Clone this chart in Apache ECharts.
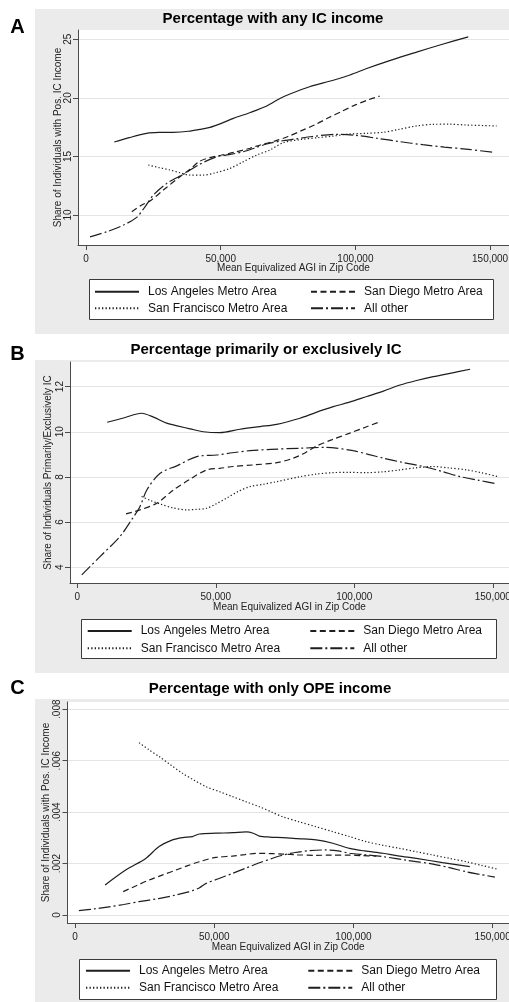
<!DOCTYPE html>
<html>
<head>
<meta charset="utf-8">
<script src="https://cdn.jsdelivr.net/npm/echarts@6/dist/echarts.min.js"></script>
<style>
  html, body { margin: 0; padding: 0; background: #fff; }
  #chart { width: 509px; height: 1002px; }
</style>
</head>
<body>
<div id="chart"></div>
<script>
var FONT = '"Liberation Sans", Arial, sans-serif';
var names = ['Los Angeles Metro Area', 'San Diego Metro Area', 'San Francisco Metro Area', 'All other'];
var xTicks = [0, 50000, 100000, 150000];

// Panel A: percentage with any IC income
var anyLA = [[10500,16.23],[16000,16.6],[22500,16.97],[27000,17.05],[32400,17.06],[38000,17.15],[42300,17.31],[46000,17.48],[50000,17.8],[54700,18.25],[61000,18.75],[67100,19.3],[72000,19.95],[75700,20.33],[83000,20.95],[91800,21.5],[98000,21.95],[104200,22.5],[113000,23.2],[122700,23.9],[132000,24.55],[141900,25.2]];
var anySD = [[17000,10.28],[20700,10.85],[23800,11.2],[28700,12.13],[34900,13.27],[38600,13.9],[42300,14.6],[46000,14.9],[50000,15.1],[55000,15.35],[60900,15.7],[65000,16.0],[70000,16.3],[75000,16.7],[80000,17.2],[85000,17.7],[90000,18.3],[95000,18.85],[100000,19.4],[105000,19.85],[109000,20.15]];
var anySF = [[23100,14.27],[27000,14.05],[31200,13.84],[35000,13.6],[38600,13.41],[43500,13.41],[48000,13.6],[53500,13.98],[58000,14.5],[63400,15.12],[68300,15.55],[73200,16.17],[80000,16.45],[86000,16.6],[91800,16.74],[97000,16.9],[104200,16.97],[110400,17.06],[116000,17.3],[122700,17.6],[128900,17.74],[135000,17.75],[141300,17.68],[152400,17.6]];
var anyAO = [[1500,8.14],[7700,8.57],[13900,9.14],[18800,9.8],[21900,10.7],[25000,11.7],[30000,12.7],[36700,13.55],[41700,14.27],[48500,14.97],[53000,15.15],[58400,15.4],[63000,15.75],[67100,16.06],[72000,16.3],[78000,16.5],[84000,16.7],[93000,16.89],[100000,16.8],[108000,16.55],[116600,16.26],[125000,16.0],[133000,15.8],[142000,15.6],[151200,15.35]];

// Panel B: percentage primarily or exclusively IC
var primLA = [[10800,10.42],[17000,10.62],[23200,10.82],[27500,10.65],[32300,10.38],[36500,10.25],[40700,10.13],[45500,10.0],[51500,9.96],[58700,10.11],[66000,10.23],[72000,10.33],[80400,10.6],[86000,10.85],[92400,11.11],[98000,11.3],[104500,11.56],[110500,11.8],[116500,12.07],[122500,12.27],[128500,12.44],[135000,12.6],[141800,12.77]];
var primSD = [[17600,6.36],[22600,6.54],[28700,6.83],[34700,7.42],[40700,7.9],[46700,8.31],[51500,8.38],[56300,8.46],[63500,8.53],[72000,8.63],[78000,8.83],[82000,9.05],[86400,9.37],[92000,9.65],[98400,9.94],[104000,10.2],[109200,10.44]];
var primSF = [[23200,7.13],[26500,6.95],[29900,6.8],[34500,6.63],[39500,6.54],[43000,6.56],[46700,6.61],[50000,6.8],[53900,7.06],[58000,7.35],[62300,7.57],[67000,7.67],[72000,7.79],[80400,8.01],[86000,8.12],[92400,8.19],[98000,8.2],[104500,8.19],[110000,8.22],[116500,8.31],[122000,8.4],[128500,8.46],[134000,8.4],[140600,8.31],[146000,8.18],[152000,8.01]];
var primAO = [[1600,3.66],[8200,4.47],[15400,5.36],[19600,6.1],[22600,6.68],[25100,7.42],[29900,8.16],[35900,8.49],[43100,8.9],[50300,8.97],[56000,9.07],[62300,9.16],[70000,9.22],[80400,9.27],[90000,9.31],[99600,9.16],[105000,9.0],[110500,8.83],[117500,8.64],[124900,8.46],[131500,8.25],[138200,8.01],[145000,7.85],[151400,7.69]];

// Panel C: percentage with only OPE income
var opeLA = [[10800,0.00117],[18200,0.00175],[25400,0.0022],[30200,0.00266],[35000,0.00292],[38600,0.00301],[42200,0.00305],[44600,0.00315],[50600,0.00318],[56600,0.0032],[61500,0.00323],[64000,0.00318],[66200,0.00307],[70000,0.00303],[74600,0.00301],[80000,0.00297],[86600,0.00292],[92600,0.00279],[98600,0.00259],[104000,0.00249],[110600,0.0024],[116000,0.0023],[122600,0.0022],[132000,0.00204],[141800,0.00188]];
var opeSD = [[17300,0.00091],[22000,0.00114],[26600,0.00136],[31500,0.00156],[36300,0.00175],[40500,0.00192],[44600,0.00207],[50600,0.00224],[56600,0.00229],[61000,0.00235],[66200,0.0024],[70000,0.00239],[74600,0.00237],[80000,0.00234],[86600,0.00232],[92000,0.00233],[98600,0.00233],[103000,0.00231],[108200,0.00229]];
var opeSF = [[23000,0.0067],[26600,0.00642],[30200,0.00616],[34400,0.00583],[38600,0.00551],[42800,0.00524],[47000,0.00499],[52000,0.00479],[56600,0.0046],[61500,0.0044],[66200,0.00421],[70500,0.00401],[74600,0.00382],[80600,0.00362],[86600,0.00343],[92600,0.00324],[98600,0.00305],[104600,0.00285],[110600,0.00271],[116600,0.00259],[122600,0.00246],[128600,0.00233],[134600,0.0022],[140600,0.00207],[146000,0.00193],[152000,0.00178]];
var opeAO = [[1400,0.00017],[7000,0.00024],[12200,0.00032],[17500,0.00041],[23000,0.00052],[30000,0.00064],[36300,0.00078],[40000,0.00088],[42200,0.00095],[44600,0.00105],[47100,0.00123],[51500,0.00141],[56600,0.00162],[61500,0.00183],[66200,0.00203],[70500,0.00219],[74600,0.00233],[79000,0.00243],[84200,0.0025],[90200,0.00253],[94500,0.00249],[98600,0.0024],[104500,0.00234],[110600,0.00227],[119000,0.00213],[128600,0.00198],[134500,0.00184],[140600,0.00168],[145500,0.00158],[150800,0.00147]];

var dashes = {
  'Los Angeles Metro Area': 'solid',
  'San Diego Metro Area': [6, 3.5],
  'San Francisco Metro Area': [1.3, 2.2],
  'All other': [12, 3, 2, 3]
};

function fmtX(v) { return v.toLocaleString('en-US'); }
function fmtOpe(v) { return v === 0 ? '0' : v.toFixed(3).replace(/^0/, ''); }

var panels = [
  { grid: { left: 78, top: 30, right: 0, height: 215 }, xMin: -2970, xMax: 157016,
    yMin: 7.44, yMax: 25.79, yTicks: [10, 15, 20, 25], yFmt: function (v) { return String(v); },
    yName: 'Share of Individuals with Pos. IC Income', xGap: 18.5, yGap: 15, yMargin: 5,
    data: [anyLA, anySD, anySF, anyAO] },
  { grid: { left: 70, top: 362, right: 0, height: 221 }, xMin: -2635, xMax: 155850,
    yMin: 3.30, yMax: 13.09, yTicks: [4, 6, 8, 10, 12], yFmt: function (v) { return String(v); },
    yName: 'Share of Individuals Primarily/Exclusively IC', xGap: 19.5, yGap: 17, yMargin: 4.6,
    data: [primLA, primSD, primSF, primAO] },
  { grid: { left: 67.5, top: 702, right: 0, height: 221 }, xMin: -2700, xMax: 155870,
    yMin: -0.00031, yMax: 0.00828, yTicks: [0, 0.002, 0.004, 0.006, 0.008], yFmt: fmtOpe,
    yName: 'Share of Individuals with Pos. IC Income', xGap: 19.5, yGap: 16, yMargin: 5.5,
    data: [opeLA, opeSD, opeSF, opeAO] }
];

var axisColor = '#4a4a4a';
var textColor = '#222';
var grids = [], xAxes = [], yAxes = [], series = [];

panels.forEach(function (p, i) {
  grids.push(Object.assign({ show: true, backgroundColor: '#fff', borderWidth: 0,
    containLabel: false, outerBoundsMode: 'none' }, p.grid));
  xAxes.push({
    gridIndex: i, type: 'value', min: p.xMin, max: p.xMax,
    axisLine: { show: true, onZero: false, lineStyle: { color: axisColor, width: 1 } },
    axisTick: { show: true, length: 5, customValues: xTicks, lineStyle: { color: axisColor } },
    axisLabel: { customValues: xTicks, formatter: fmtX, fontSize: 10, color: textColor, margin: 9.5,
      fontFamily: FONT, hideOverlap: false },
    splitLine: { show: false },
    name: 'Mean Equivalized AGI in Zip Code', nameLocation: 'middle', nameGap: p.xGap,
    nameMoveOverlap: false,
    nameTextStyle: { fontSize: 10, color: textColor, fontFamily: FONT }
  });
  yAxes.push({
    gridIndex: i, type: 'value', min: p.yMin, max: p.yMax,
    axisLine: { show: true, onZero: false, lineStyle: { color: axisColor, width: 1 } },
    axisTick: { show: true, length: 5, customValues: p.yTicks, lineStyle: { color: axisColor } },
    axisLabel: { customValues: p.yTicks, formatter: p.yFmt, rotate: 90, fontSize: 10, color: textColor,
      margin: p.yMargin, fontFamily: FONT },
    splitLine: { show: true, lineStyle: { color: '#e4e4e4', width: 1 } },
    name: p.yName, nameLocation: 'middle', nameGap: p.yGap, nameMoveOverlap: false,
    nameTextStyle: { fontSize: 10, color: textColor, fontFamily: FONT }
  });
  p.data.forEach(function (d, k) {
    series.push({
      name: names[k], type: 'line', xAxisIndex: i, yAxisIndex: i,
      data: d, smooth: 0.3, symbol: 'none', silent: true,
      itemStyle: { color: '#1e1e1e' },
      lineStyle: { color: '#1e1e1e', width: 1.2, type: dashes[names[k]] }
    });
  });
});

function legendCol(left, top, gap, items) {
  return {
    orient: 'vertical', left: left, top: top, padding: 0,
    itemWidth: 44, itemHeight: 12, itemGap: gap,
    selectedMode: false, data: items,
    itemStyle: { opacity: 0 },
    textStyle: { fontSize: 12, color: '#111', fontFamily: FONT, padding: [0, 0, 0, 4] }
  };
}

var legends = [
  legendCol(94, 285.7, 4.6, [names[0], names[2]]),
  legendCol(310, 285.7, 4.6, [names[1], names[3]]),
  legendCol(86.7, 625, 5.3, [names[0], names[2]]),
  legendCol(309.3, 625, 5.3, [names[1], names[3]]),
  legendCol(85, 964.7, 5, [names[0], names[2]]),
  legendCol(307.3, 964.7, 5, [names[1], names[3]])
];

var gray = '#ebebeb';
function rect(x, y, w, h, fill, stroke) {
  return { type: 'rect', z: -10, silent: true, shape: { x: x, y: y, width: w, height: h },
    style: { fill: fill, stroke: stroke || null, lineWidth: stroke ? 1 : 0 } };
}
function label(text, x, y, size, weight) {
  return { type: 'text', z: 10, silent: true, x: x, y: y,
    style: { text: text, font: weight + ' ' + size + 'px ' + FONT, fill: '#000', textAlign: 'center', textVerticalAlign: 'middle' } };
}

var graphics = [
  rect(35, 9, 474, 325, gray),
  rect(35, 360, 474, 313, gray),
  rect(35, 699, 474, 303, gray),
  rect(89.5, 279.5, 404, 40, '#fff', '#3a3a3a'),
  rect(81.5, 619.5, 415, 39, '#fff', '#3a3a3a'),
  rect(79.5, 959.5, 417, 40, '#fff', '#3a3a3a'),
  label('A', 17.5, 27, 20, 'bold'),
  label('B', 17.5, 354, 20, 'bold'),
  label('C', 17.5, 688, 20, 'bold'),
  label('Percentage with any IC income', 273, 18.8, 15, 'bold'),
  label('Percentage primarily or exclusively IC', 266, 350.3, 15, 'bold'),
  label('Percentage with only OPE income', 270, 688.8, 15, 'bold')
];

var chart = echarts.init(document.getElementById('chart'));
chart.setOption({
  animation: false,
  backgroundColor: '#fff',
  textStyle: { fontFamily: FONT },
  graphic: graphics,
  grid: grids,
  xAxis: xAxes,
  yAxis: yAxes,
  legend: legends,
  series: series
});
</script>
</body>
</html>
